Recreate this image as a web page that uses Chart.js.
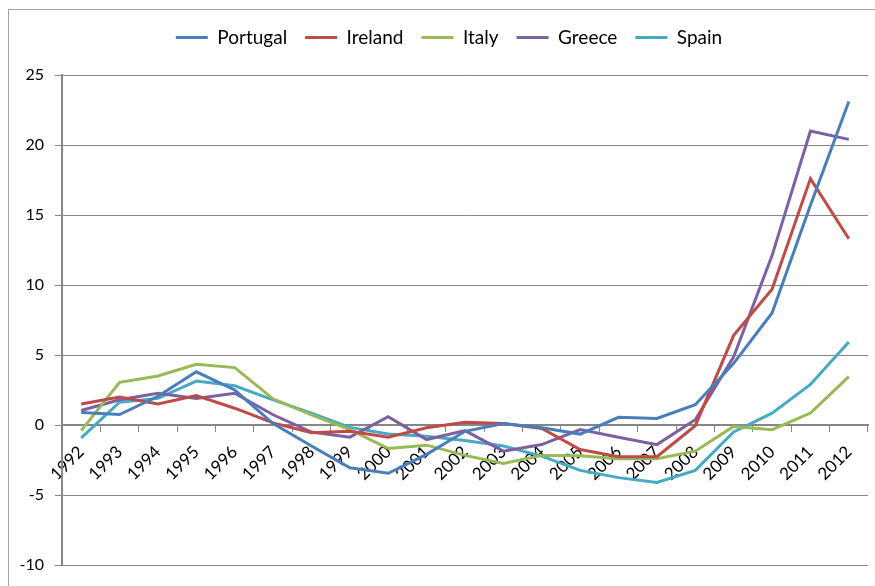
<!DOCTYPE html>
<html>
<head>
<meta charset="utf-8">
<title>Portugal, Ireland, Italy, Greece, Spain</title>
<script src="https://cdn.jsdelivr.net/npm/chart.js@4.4.0/dist/chart.umd.min.js"></script>
<style>
    html, body { margin: 0; padding: 0; background: #fff; overflow: hidden; }
    #cadre { position: absolute; left: 0; top: 0; width: 875px; height: 586px; }
</style>
</head>
<body>
<div id="cadre"><canvas id="graphique"></canvas></div>
<script>
// années (axe x)
const annees = ['1992', '1993', '1994', '1995', '1996', '1997', '1998', '1999', '2000', '2001', '2002',
    '2003', '2004', '2005', '2006', '2007', '2008', '2009', '2010', '2011', '2012'];

// valeurs
const portugal = [0.9, 0.75, 2.05, 3.8, 2.5, 0.1, -1.5, -3.05, -3.45, -2.1, -0.45, 0.1, -0.2, -0.65, 0.55, 0.47, 1.45, 4.4, 8.0, 15.7, 23.1];
const irlande = [1.5, 2.0, 1.5, 2.1, 1.2, 0.15, -0.55, -0.45, -0.87, -0.2, 0.2, 0.1, -0.25, -1.75, -2.27, -2.27, -0.05, 6.4, 9.7, 17.6, 13.3];
const italie = [-0.4, 3.05, 3.5, 4.33, 4.1, 1.87, 0.73, -0.33, -1.68, -1.44, -2.17, -2.74, -2.17, -2.2, -2.41, -2.41, -1.87, -0.1, -0.33, 0.85, 3.45];
const grece = [1.04, 1.8, 2.27, 1.9, 2.27, 0.73, -0.5, -0.87, 0.6, -1.04, -0.4, -1.87, -1.4, -0.33, -0.87, -1.4, 0.38, 4.87, 12.1, 21.0, 20.4];
const espagne = [-0.92, 1.63, 1.9, 3.14, 2.8, 1.8, 0.85, -0.17, -0.64, -0.8, -1.11, -1.5, -2.22, -3.24, -3.76, -4.1, -3.24, -0.5, 0.85, 2.9, 5.93];

const gris = '#868686';

function serie(nom, valeurs, couleur) {
    return {
        label: nom,
        data: valeurs,
        borderColor: couleur,
        backgroundColor: couleur,
        borderWidth: 3,
        pointRadius: 0,
        tension: 0,
        fill: false
    };
}

// cadre gris autour du graphique
const cadre = {
    id: 'cadre',
    beforeDraw(chart) {
        const ctx = chart.ctx;
        ctx.save();
        ctx.strokeStyle = '#a6a6a6';
        ctx.lineWidth = 1;
        ctx.strokeRect(8.5, 9.5, 900, 600);
        ctx.restore();
    }
};

// plus de place sous la légende, et légende un peu décalée à droite
const espaceLegende = {
    id: 'espaceLegende',
    beforeInit(chart) {
        const fitOrig = chart.legend.fit;
        chart.legend.fit = function () {
            fitOrig.bind(chart.legend)();
            this.height += 18;
        };
    },
    afterLayout(chart) {
        chart.legend.left += 15;
        chart.legend.right += 15;
    }
};

new Chart(document.getElementById('graphique'), {
    type: 'line',
    data: {
        labels: annees,
        datasets: [
            serie('Portugal', portugal, '#4a7ebb'),
            serie('Ireland', irlande, '#be4b48'),
            serie('Italy', italie, '#98b954'),
            serie('Greece', grece, '#7d60a0'),
            serie('Spain', espagne, '#46aac5')
        ]
    },
    options: {
        responsive: true,
        maintainAspectRatio: false,
        animation: false,
        layout: {
            padding: { top: 10, left: 0, right: 7, bottom: 21 }
        },
        plugins: {
            legend: {
                position: 'top',
                labels: {
                    usePointStyle: true,
                    pointStyle: 'line',
                    pointStyleWidth: 32,
                    padding: 18,
                    color: '#000',
                    font: { family: 'Lato', size: 19 }
                }
            },
            tooltip: { enabled: false }
        },
        scales: {
            x: {
                position: { y: 0 },
                offset: true,
                grid: {
                    display: true,
                    drawOnChartArea: false,
                    drawTicks: true,
                    tickLength: 6,
                    color: gris,
                    offset: true
                },
                border: { display: true, color: gris, width: 2 },
                ticks: {
                    minRotation: 45,
                    maxRotation: 45,
                    autoSkip: false,
                    padding: 11,
                    color: '#000',
                    font: { family: 'Lato', size: 17 }
                }
            },
            y: {
                min: -10,
                max: 25,
                afterFit(scale) { scale.width = 62; },
                grid: {
                    color: gris,
                    lineWidth: 1,
                    tickLength: 7
                },
                border: { display: true, color: gris, width: 2 },
                ticks: {
                    stepSize: 5,
                    padding: 11,
                    color: '#000',
                    font: { family: 'Lato', size: 16 }
                }
            }
        }
    },
    plugins: [cadre, espaceLegende]
});
</script>
</body>
</html>
